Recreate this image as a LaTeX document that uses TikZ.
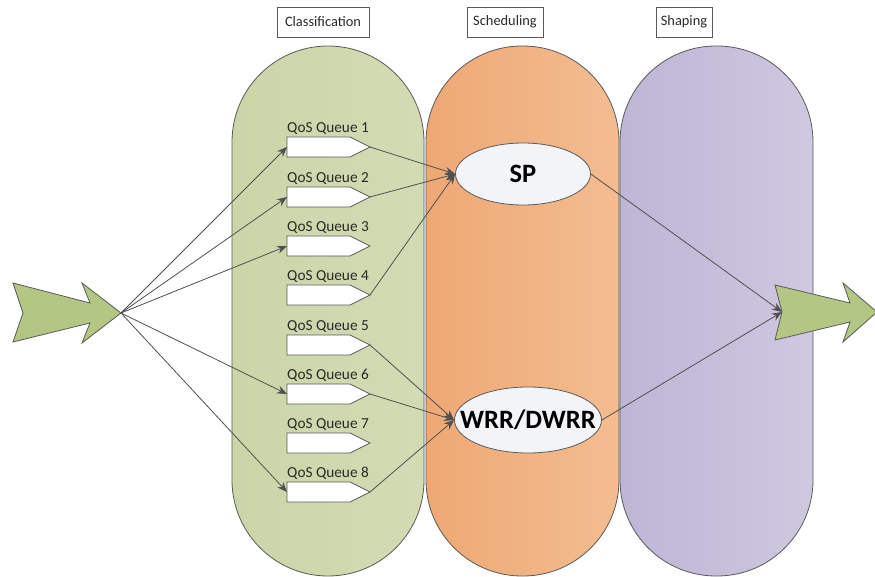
\documentclass[tikz,border=0pt]{standalone}
\usepackage{fontspec}
\setmainfont{Carlito}
\usetikzlibrary{arrows.meta,shapes.geometric}
\definecolor{linegray}{HTML}{5A5A5A}
\definecolor{conngray}{HTML}{505050}
\definecolor{txtgray}{HTML}{2A2A2A}
\definecolor{greenL}{HTML}{CAD5A8}
\definecolor{greenR}{HTML}{D3DBB4}
\definecolor{orangeL}{HTML}{EEA874}
\definecolor{orangeR}{HTML}{F3BD91}
\definecolor{purpleL}{HTML}{BDB6D5}
\definecolor{purpleR}{HTML}{CEC8E0}
\definecolor{ellfill}{HTML}{F3F4F8}
\definecolor{arrowgreen}{HTML}{B4C684}
\tikzset{
  capsule/.style={draw=linegray, line width=0.8pt, rounded corners=96pt},
  queuebox/.style={draw=linegray, fill=white, line width=0.7pt},
  qlabel/.style={anchor=base west, inner sep=0pt, font=\fontsize{15.3}{17}\selectfont, text=txtgray},
  header/.style={draw=linegray, fill=white, line width=0.6pt, minimum height=30pt, inner sep=0pt, font=\fontsize{14.4}{16}\selectfont, text=txtgray},
  sched/.style={ellipse, draw=linegray, fill=ellfill, line width=0.8pt, inner sep=0pt},
  schedtext/.style={font=\bfseries\fontsize{26.5}{28}\selectfont, text=black, inner sep=0pt},
  conn/.style={draw=conngray, line width=0.8pt, -{Stealth[length=10pt,width=8pt]}},
  bigarrow/.style={draw=linegray, fill=arrowgreen, line width=0.8pt, line join=miter}
}
\begin{document}
\begin{tikzpicture}[x=1pt,y=-1pt]
\useasboundingbox (0,0) rectangle (875,577);
\fill[white] (0,0) rectangle (875,577);
% capsules
\path[capsule, left color=greenL, right color=greenR] (232,46) rectangle (424,576);
\path[capsule, left color=orangeL, right color=orangeR] (426,46) rectangle (619,576);
\path[capsule, left color=purpleL, right color=purpleR] (620,46) rectangle (813,576);
% headers
\node[header, minimum width=92pt] (hcls) at (323,22) {Classification};
\node[header, minimum width=76pt] (hsch) at (505,22) {Scheduling};
\node[header, minimum width=56pt] (hshp) at (684,22) {Shaping};
% input arrow
\coordinate (intip) at (121,313);
\draw[bigarrow] (13,283) -- (90,303) -- (82,283) -- (intip) -- (82,343) -- (90,323) -- (13,342) -- (23,313) -- cycle;
% output arrow
\coordinate (outnotch) at (782,312);
\draw[bigarrow] (775,285) -- (850,303) -- (843,283) -- (877,312) -- (843,342) -- (850,322) -- (775,340) -- (outnotch) -- cycle;
% queues
\foreach \i/\c in {1/147,2/197,3/246,4/295,5/345,6/394,7/443,8/492}{
  \coordinate (qw\i) at (287,\c);
  \coordinate (qe\i) at (370,\c);
  \draw[queuebox] (287,\c-10) -- (350,\c-10) -- (qe\i) -- (350,\c+10) -- (287,\c+10) -- cycle;
  \node[qlabel] (ql\i) at (287,\c-14.5) {QoS Queue \i};
}
% schedulers
\node[sched, minimum width=135pt, minimum height=62pt] (sp) at (523,174) {};
\node[schedtext] (sptext) at (sp.center) {SP};
\node[sched, minimum width=147pt, minimum height=66pt] (wrr) at (528,420) {};
\node[schedtext] (wrrtext) at (wrr.center) {WRR/DWRR};
% connectors
\foreach \i in {1,2,3,6,8}{ \draw[conn] (intip) -- (qw\i); }
\foreach \i in {1,2,4}{ \draw[conn] (qe\i) -- (sp.west); }
\foreach \i in {5,6,8}{ \draw[conn] (qe\i) -- (wrr.west); }
\draw[conn] (sp.east) -- (outnotch);
\draw[conn] (wrr.east) -- (outnotch);
\end{tikzpicture}
\end{document}
